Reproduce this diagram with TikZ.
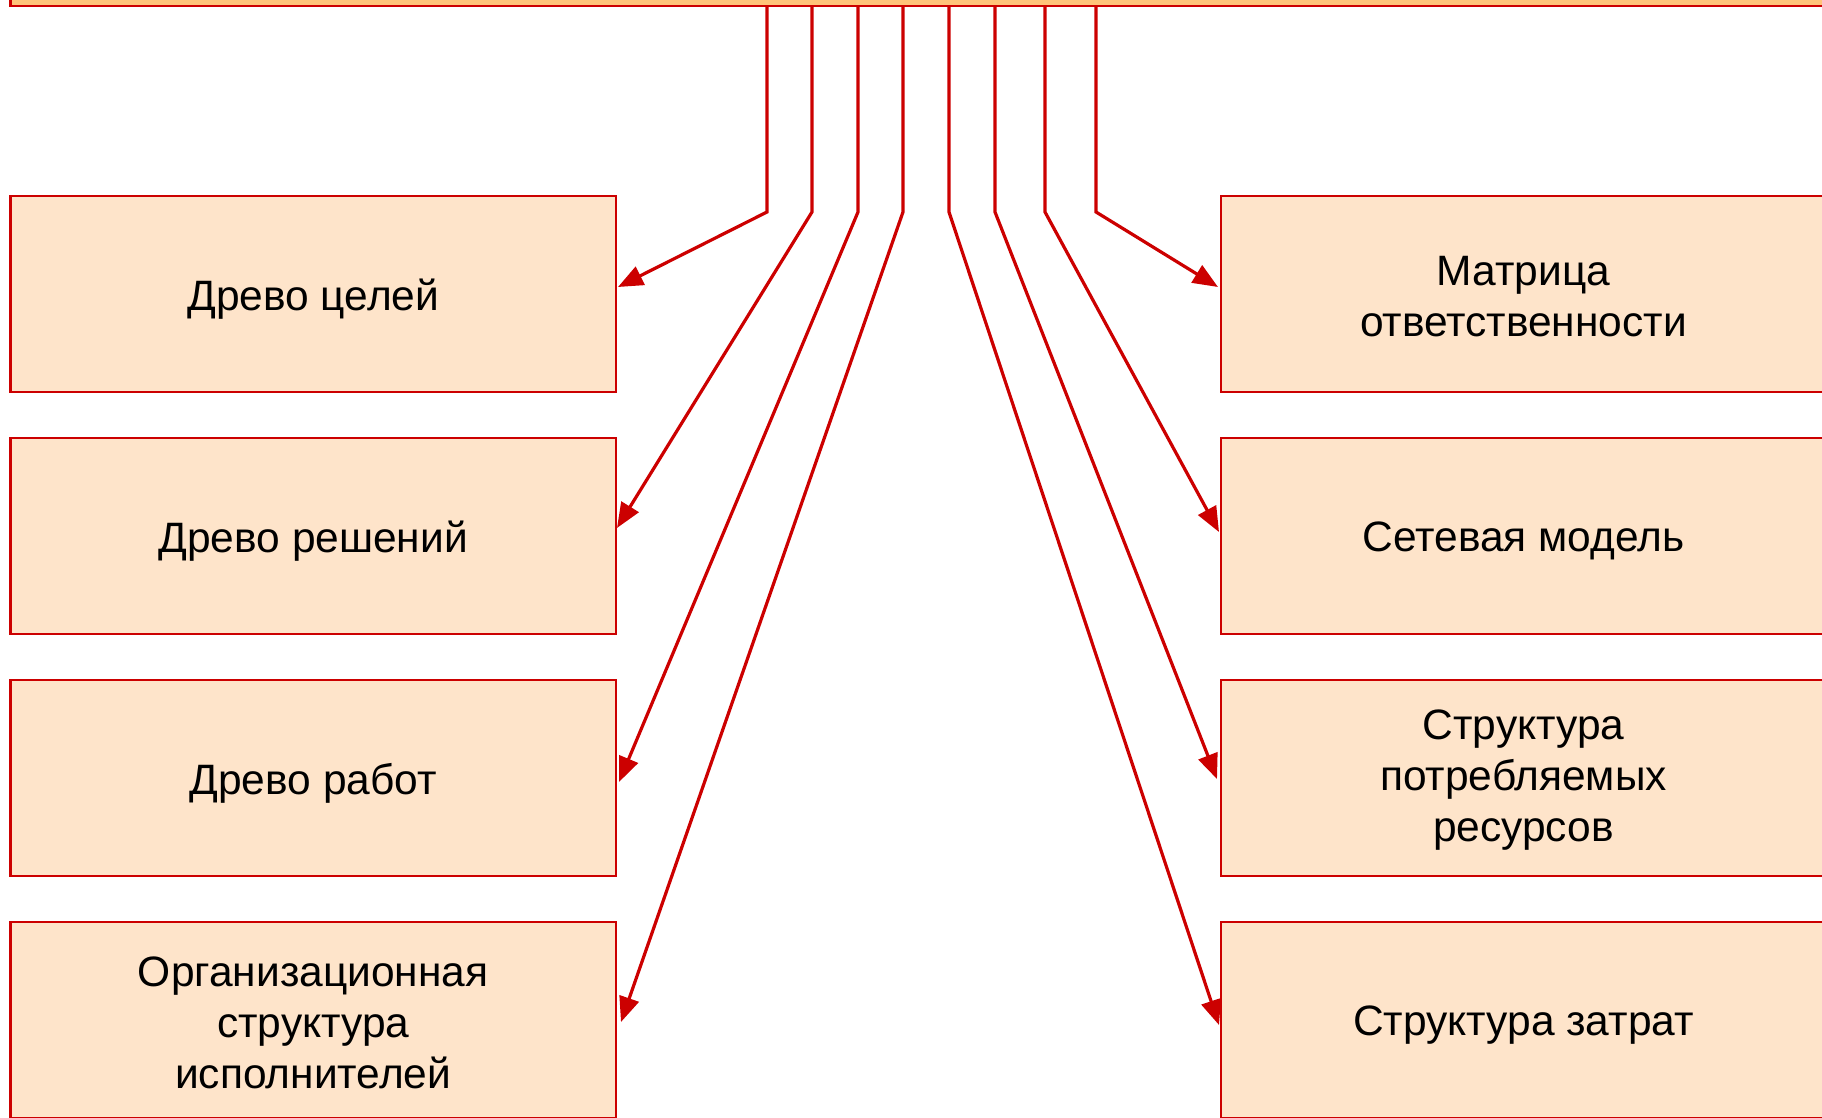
\documentclass[tikz,border=0pt]{standalone}
\usepackage{fontspec}
\setmainfont{Liberation Sans}
\usetikzlibrary{arrows.meta}
\definecolor{linered}{HTML}{CC0000}
\definecolor{peach}{HTML}{FEE4CA}
\definecolor{topfill}{HTML}{FFC47A}
\tikzset{
  box/.style={draw=linered, line width=1.2pt, fill=peach, minimum width=302.75pt,
    minimum height=98pt, inner sep=0pt, outer sep=0pt},
  txt/.style={align=center, inner sep=0pt, font=\fontsize{21.25pt}{25.5pt}\selectfont},
  conn/.style={draw=linered, line width=1.6pt, miter limit=10,
    -{Triangle[length=12.5pt,width=10pt]}},
}
\begin{document}
\begin{tikzpicture}[x=0.5pt,y=-0.5pt]
\useasboundingbox (0,0) rectangle (1822,1118);
\node[box, fill=topfill, minimum width=914.75pt, minimum height=18pt] (top) at (925.25,-12) {};
% left boxes
\node[box] (L1) at (313.25,294) {};
\node[box] (L2) at (313.25,536) {};
\node[box] (L3) at (313.25,778) {};
\node[box] (L4) at (313.25,1020) {};
% right boxes
\node[box] (R1) at (1523.5,294) {};
\node[box] (R2) at (1523.5,536) {};
\node[box] (R3) at (1523.5,778) {};
\node[box] (R4) at (1523.5,1020) {};
% texts
\node[txt, yshift=-2.5pt] (L1t) at (L1) {Древо целей};
\node[txt, yshift=-2.5pt] (L2t) at (L2) {Древо решений};
\node[txt, yshift=-2.5pt] (L3t) at (L3) {Древо работ};
\node[txt, yshift=-1.2pt] (L4t) at (L4) {Организационная\\структура\\исполнителей};
\node[txt, yshift=-1.2pt] (R1t) at (R1) {Матрица\\ответственности};
\node[txt, yshift=-2.5pt] (R2t) at (R2) {Сетевая модель};
\node[txt, yshift=-1.2pt] (R3t) at (R3) {Структура\\потребляемых\\ресурсов};
\node[txt, yshift=-2.5pt] (R4t) at (R4) {Структура затрат};
% bends
\coordinate (bL1) at (767,212);
\coordinate (bL2) at (812,212);
\coordinate (bL3) at (858,212);
\coordinate (bL4) at (903,212);
\coordinate (bR4) at (949,212);
\coordinate (bR3) at (995,212);
\coordinate (bR2) at (1045,212);
\coordinate (bR1) at (1096,212);
% tips
\coordinate (tL1) at (618,287);
\coordinate (tL2) at (617,528);
\coordinate (tL3) at (619,782);
\coordinate (tL4) at (621,1022);
\coordinate (tR1) at (1218,287);
\coordinate (tR2) at (1219,532);
\coordinate (tR3) at (1217,779);
\coordinate (tR4) at (1219,1025);
% connectors
\draw[conn] (top.south -| bL1) -- (bL1) -- (tL1);
\draw[conn] (top.south -| bL2) -- (bL2) -- (tL2);
\draw[conn] (top.south -| bL3) -- (bL3) -- (tL3);
\draw[conn] (top.south -| bL4) -- (bL4) -- (tL4);
\draw[conn] (top.south -| bR1) -- (bR1) -- (tR1);
\draw[conn] (top.south -| bR2) -- (bR2) -- (tR2);
\draw[conn] (top.south -| bR3) -- (bR3) -- (tR3);
\draw[conn] (top.south -| bR4) -- (bR4) -- (tR4);
\end{tikzpicture}
\end{document}
